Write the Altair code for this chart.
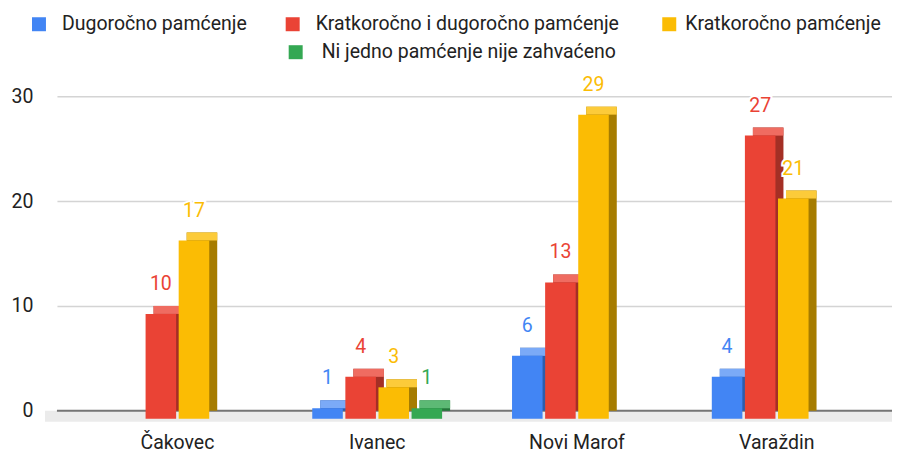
import altair as alt
import pandas as pd

# ---- data ----
cities = ["Čakovec", "Ivanec", "Novi Marof", "Varaždin"]
series = [
    "Dugoročno pamćenje",
    "Kratkoročno i dugoročno pamćenje",
    "Kratkoročno pamćenje",
    "Ni jedno pamćenje nije zahvaćeno",
]
dugorocno = [None, 1, 6, 4]
kratko_i_dugo = [10, 4, 13, 27]
kratkorocno = [17, 3, 29, 21]
ni_jedno = [None, 1, None, None]
y_ticks = [0, 10, 20, 30]

# ---- styles ----
front_colors = ["#4285F4", "#EA4335", "#FBBC04", "#34A853"]
top_colors = ["#7BAAF7", "#EF6C61", "#FCCB3A", "#5DB975"]
side_colors = ["#2E5DAB", "#A42F25", "#A67C00", "#24763A"]
FONT = "Roboto"
W, H = 836, 315
DEPTH = 8
GROUP = 130  # bandwidth of a city group (step 200 * (1 - 0.35))

rows = []
for s, vals in zip(series, [dugorocno, kratko_i_dugo, kratkorocno, ni_jedno]):
    for c, v in zip(cities, vals):
        if v is not None:
            rows.append({"grad": c, "serija": s, "broj": v})
df = pd.DataFrame(rows)

x_enc = alt.X(
    "grad:N", sort=cities,
    scale=alt.Scale(paddingInner=0.35, paddingOuter=0.265, align=0.6),
    axis=alt.Axis(title=None, labelFontSize=19.5, labelColor="#222222", labelFont=FONT,
                  labelPadding=23, ticks=False, domain=False, labelOffset=-8, labelAngle=0,
                  grid=False),
)


def xo(shift):
    return alt.XOffset("serija:N", sort=series,
                       scale=alt.Scale(domain=series, paddingInner=0.077, paddingOuter=0,
                                       range=[shift, GROUP + shift]))


y_enc = alt.Y(
    "broj:Q", scale=alt.Scale(domain=[0, 30], nice=False, zero=True),
    axis=alt.Axis(values=y_ticks, title=None, labelFontSize=19.5, labelColor="#222222",
                  labelFont=FONT, labelPadding=24, ticks=False, domain=False,
                  grid=True, gridColor="#d4d4d4", gridWidth=1.5),
)


def col(rng):
    return alt.Color("serija:N", scale=alt.Scale(domain=series, range=rng), legend=None)


base = alt.Chart(df)
one = alt.Data(values=[{"k": 0}])

floor = alt.Chart(one).mark_rect(color="#ebebeb", y2Offset=11).encode(
    x=alt.value(-12), x2=alt.value(W), y=alt.datum(0), y2=alt.datum(0)
)
zero_line = alt.Chart(one).mark_rule(color="#757575", strokeWidth=2).encode(
    x=alt.value(0), x2=alt.value(W), y=alt.datum(0)
)

back = alt.layer(
    base.mark_bar().encode(x=x_enc, xOffset=xo(0), y=y_enc, color=col(side_colors)),
    base.mark_bar(y2Offset=DEPTH).encode(
        x=x_enc, xOffset=xo(0), y=y_enc, y2="broj:Q", color=col(top_colors)
    ),
).resolve_scale(color="independent")

front = alt.layer(
    base.mark_bar(yOffset=DEPTH, y2Offset=DEPTH).encode(
        x=x_enc, xOffset=xo(-DEPTH), y=y_enc, color=col(front_colors)
    ),
    base.mark_text(dy=-22, baseline="middle", fontSize=19.5, font=FONT,
                   stroke="white", strokeWidth=4, fill="white").encode(
        x=x_enc, xOffset=xo(-DEPTH), y=y_enc, text="broj:Q"
    ),
    base.mark_text(dy=-22, baseline="middle", fontSize=19.5, font=FONT).encode(
        x=x_enc, xOffset=xo(-DEPTH), y=y_enc, text="broj:Q", color=col(front_colors)
    ),
)

# ---- legend (top, centred, two rows) ----
legend_pos = [(39, 24, 62), (293, 24, 316), (670, 24, 686), (296, 52, 322)]
legend_layers = []
for (sx, sy, tx), s, c in zip(legend_pos, series, front_colors):
    legend_layers.append(
        alt.Chart(one).mark_square(size=196, color=c, opacity=1, filled=True).encode(
            x=alt.value(sx - 57), y=alt.value(sy - 96)
        )
    )
    legend_layers.append(
        alt.Chart(one).mark_text(text=s, align="left", baseline="middle", fontSize=19.5,
                                 font=FONT, color="#222222").encode(
            x=alt.value(tx - 57), y=alt.value(sy - 96)
        )
    )

chart = alt.layer(floor, zero_line, back, front, *legend_layers).resolve_scale(
    color="independent", xOffset="independent"
).properties(
    width=W, height=H, autosize=alt.AutoSizeParams(type="none"),
    padding={"left": 49, "top": 88, "right": 0, "bottom": 46},
).configure_view(stroke=None)

chart.save("out.html", embed_options={"renderer": "svg", "actions": False})
